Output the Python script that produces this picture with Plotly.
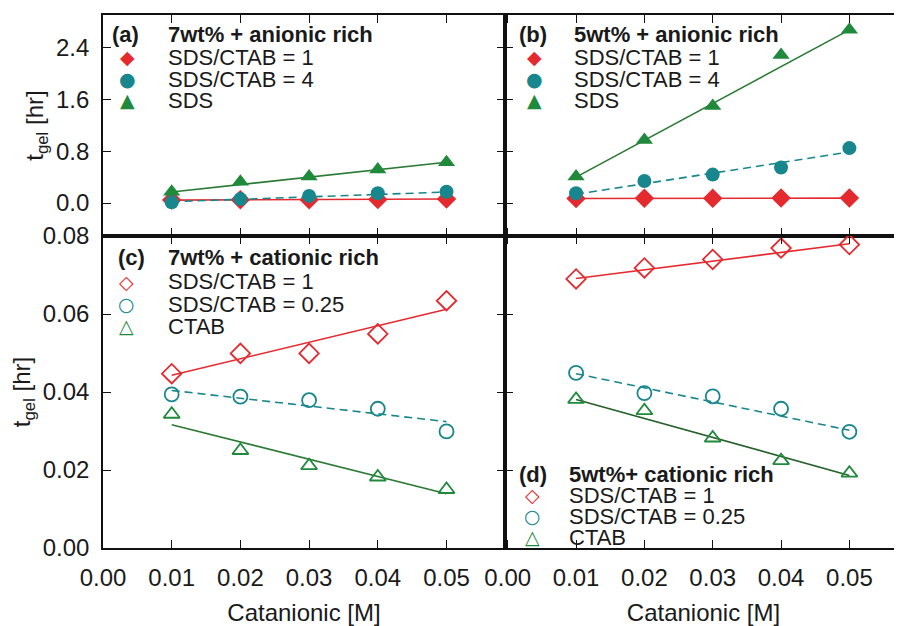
import plotly.graph_objects as go

# ---------------- data ----------------
conc = [0.01, 0.02, 0.03, 0.04, 0.05]
fit_x = [0.01, 0.05]

# (a) 7wt% + anionic rich
a_ratio1 = [0.045, 0.050, 0.050, 0.055, 0.063]
a_ratio4 = [0.01, 0.06, 0.11, 0.15, 0.175]
a_sds = [0.175, 0.33, 0.41, 0.52, 0.63]
a_fit_ratio1 = [0.045, 0.061]
a_fit_ratio4 = [0.02, 0.17]
a_fit_sds = [0.17, 0.63]

# (b) 5wt% + anionic rich
b_ratio1 = [0.069, 0.072, 0.074, 0.077, 0.078]
b_ratio4 = [0.15, 0.34, 0.44, 0.55, 0.85]
b_sds = [0.41, 0.975, 1.50, 2.29, 2.68]
b_fit_ratio1 = [0.070, 0.075]
b_fit_ratio4 = [0.135, 0.79]
b_fit_sds = [0.40, 2.68]

# (c) 7wt% + cationic rich
c_ratio1 = [0.0447, 0.0499, 0.0499, 0.0549, 0.0634]
c_ratio025 = [0.0394, 0.0388, 0.0379, 0.0357, 0.0299]
c_ctab = [0.0343, 0.0250, 0.0211, 0.0182, 0.0150]
c_fit_ratio1 = [0.0443, 0.0612]
c_fit_ratio025 = [0.0404, 0.0324]
c_fit_ctab = [0.0316, 0.0139]

# (d) 5wt% + cationic rich
d_ratio1 = [0.0690, 0.0718, 0.0740, 0.0769, 0.0778]
d_ratio025 = [0.0449, 0.0397, 0.0389, 0.0357, 0.0298]
d_ctab = [0.0381, 0.0352, 0.0282, 0.0224, 0.0192]
d_fit_ratio1 = [0.0691, 0.0780]
d_fit_ratio025 = [0.0447, 0.0302]
d_fit_ctab = [0.0381, 0.0186]

top_yticks = [0.0, 0.8, 1.6, 2.4]
bot_yticks = [0.00, 0.02, 0.04, 0.06, 0.08]
xticks = [0.00, 0.01, 0.02, 0.03, 0.04, 0.05]

panel_letters = ["(a)", "(b)", "(c)", "(d)"]
panel_titles = ["7wt% + anionic rich", "5wt% + anionic rich",
                "7wt% + cationic rich", "5wt%+ cationic rich"]
anionic_labels = ["SDS/CTAB = 1", "SDS/CTAB = 4", "SDS"]
cationic_labels = ["SDS/CTAB = 1", "SDS/CTAB = 0.25", "CTAB"]

# ---------------- style ----------------
RED = "#e42a2f"
TEAL = "#17868d"
GREEN = "#1f8a3b"
GREEN_LINE = "#2a7a33"
FONT = "Liberation Sans, Arial, sans-serif"
TXT = "#1a1a1a"

# the page body has an 8 px margin: the figure starts at screen (8, 8)
OFF = 8
W, H = 902 - OFF, 626 - OFF

# screen-pixel geometry of the frames
XL0, XM, XR = 103, 505, 902
YT, YM, YB = 15, 236, 548

def px(x):
    return (x - OFF) / W

def py(y):
    return 1 - (y - OFF) / H

fig = go.Figure()

def add_series(xa, ya, y, fit, color, symbol, size, dash, line_color=None, open_=False):
    fig.add_trace(go.Scatter(x=fit_x, y=fit, mode="lines", xaxis=xa, yaxis=ya,
                             line=dict(color=line_color or color, width=1.6, dash=dash),
                             showlegend=False, hoverinfo="skip"))
    if open_:
        marker = dict(symbol=symbol + "-open", size=size, color=color, line=dict(width=1.8, color=color))
    else:
        marker = dict(symbol=symbol, size=size, color=color, line=dict(width=0))
    fig.add_trace(go.Scatter(x=conc, y=y, mode="markers", xaxis=xa, yaxis=ya,
                             marker=marker, showlegend=False))

DASH = "8px,5px"
# (a)
add_series("x", "y", a_ratio1, a_fit_ratio1, RED, "diamond", 15, "solid")
add_series("x", "y", a_ratio4, a_fit_ratio4, TEAL, "circle", 14, DASH)
add_series("x", "y", a_sds, a_fit_sds, GREEN, "triangle-up", 15, "solid", GREEN_LINE)
# (b)
add_series("x2", "y2", b_ratio1, b_fit_ratio1, RED, "diamond", 15, "solid")
add_series("x2", "y2", b_ratio4, b_fit_ratio4, TEAL, "circle", 14, DASH)
add_series("x2", "y2", b_sds, b_fit_sds, GREEN, "triangle-up", 15, "solid", GREEN_LINE)
# (c)
add_series("x3", "y3", c_ratio1, c_fit_ratio1, RED, "diamond", 15, "solid", open_=True)
add_series("x3", "y3", c_ratio025, c_fit_ratio025, TEAL, "circle", 14, DASH, open_=True)
add_series("x3", "y3", c_ctab, c_fit_ctab, GREEN, "triangle-up", 14, "solid", GREEN_LINE, open_=True)
# (d)
add_series("x4", "y4", d_ratio1, d_fit_ratio1, RED, "diamond", 15, "solid", open_=True)
add_series("x4", "y4", d_ratio025, d_fit_ratio025, TEAL, "circle", 14, DASH, open_=True)
add_series("x4", "y4", d_ctab, d_fit_ctab, GREEN, "triangle-up", 14, "solid", "#25612b", open_=True)

tickfont = dict(family=FONT, size=24, color=TXT)
common = dict(showline=True, linecolor="#111", linewidth=1.6, ticks="inside", ticklen=8,
              tickwidth=1.4, tickcolor="#111", showgrid=False, zeroline=False,
              tickfont=tickfont)

xr_left = [0, (XM - XL0) / 6870]
xr_right = [-0.0004, 0.0577]
top_range = [-(YM - 203) / 64.6, (203 - YT) / 64.6]
bot_range = [0, 0.08]

xdom_l = [px(XL0), px(XM)]
xdom_r = [px(XM), 1.0]
ydom_t = [py(YM), py(YT)]
ydom_b = [py(YB), py(YM)]

ytitle = dict(text="t<sub>gel</sub> [hr]", font=dict(family=FONT, size=24, color=TXT), standoff=6)
xtitle = dict(text="Catanionic [M]", font=dict(family=FONT, size=24, color=TXT), standoff=18)

fig.update_layout(
    xaxis=dict(domain=xdom_l, range=xr_left, anchor="y", tickvals=xticks, showticklabels=False,
               mirror="allticks", **common),
    yaxis=dict(domain=ydom_t, range=top_range, anchor="x", tickvals=top_yticks, tickformat=".1f",
               mirror="allticks", title=ytitle, ticklabelstandoff=7, **common),
    xaxis2=dict(domain=xdom_r, range=xr_right, anchor="y2", tickvals=xticks, showticklabels=False,
                mirror="allticks", **common),
    yaxis2=dict(domain=ydom_t, range=top_range, anchor="x2", tickvals=top_yticks, showticklabels=False,
                mirror=False, **common),
    xaxis3=dict(domain=xdom_l, range=xr_left, anchor="y3", tickvals=xticks, tickformat=".2f",
                mirror="allticks", title=xtitle, ticklabelstandoff=7, **common),
    yaxis3=dict(domain=ydom_b, range=bot_range, anchor="x3", tickvals=bot_yticks, tickformat=".2f",
                mirror="allticks", title=ytitle, ticklabelstandoff=7, **common),
    xaxis4=dict(domain=xdom_r, range=xr_right, anchor="y4", tickvals=xticks, tickformat=".2f",
                mirror="allticks", title=xtitle, ticklabelstandoff=7, **common),
    yaxis4=dict(domain=ydom_b, range=bot_range, anchor="x4", tickvals=bot_yticks, showticklabels=False,
                mirror=False, **common),
    width=W, height=H,
    margin=dict(l=0, r=0, t=0, b=0, autoexpand=False),
    paper_bgcolor="white", plot_bgcolor="white",
    showlegend=False,
)

# ---------------- panel keys (text + glyphs) ----------------
ann = []
def key_block(letter, title, labels, glyphs, colors, x_letter, x_key, x_text, y_head, y_rows):
    ann.append(dict(text="<b>%s</b>" % letter, x=px(x_letter), y=py(y_head)))
    ann.append(dict(text="<b>%s</b>" % title, x=px(x_text), y=py(y_head)))
    for lab, g, c, yy in zip(labels, glyphs, colors, y_rows):
        ann.append(dict(text=lab, x=px(x_text), y=py(yy)))
        ann.append(dict(text=g, x=px(x_key), y=py(yy), xanchor="center",
                        font=dict(family="DejaVu Sans", size=19, color=c)))

filled = ["\u25c6", "\u25cf", "\u25b2"]
opened = ["\u25c7", "\u25cb", "\u25b3"]
cols = [RED, TEAL, GREEN]
key_block(panel_letters[0], panel_titles[0], anionic_labels, filled, cols, 110, 127, 166, 35, [57, 79, 100])
key_block(panel_letters[1], panel_titles[1], anionic_labels, filled, cols, 517, 534, 572, 35, [57, 79, 100])
key_block(panel_letters[2], panel_titles[2], cationic_labels, opened, cols, 116, 126, 166, 258, [282, 304, 326])
key_block(panel_letters[3], panel_titles[3], cationic_labels, opened, cols, 517, 532, 567, 474, [495, 516, 537])

for a in ann:
    a.setdefault("xanchor", "left")
    a.setdefault("font", dict(family=FONT, size=22, color=TXT))
    a.update(xref="paper", yref="paper", yanchor="middle", showarrow=False)
fig.update_layout(annotations=ann)

fig.write_html("out.html")
